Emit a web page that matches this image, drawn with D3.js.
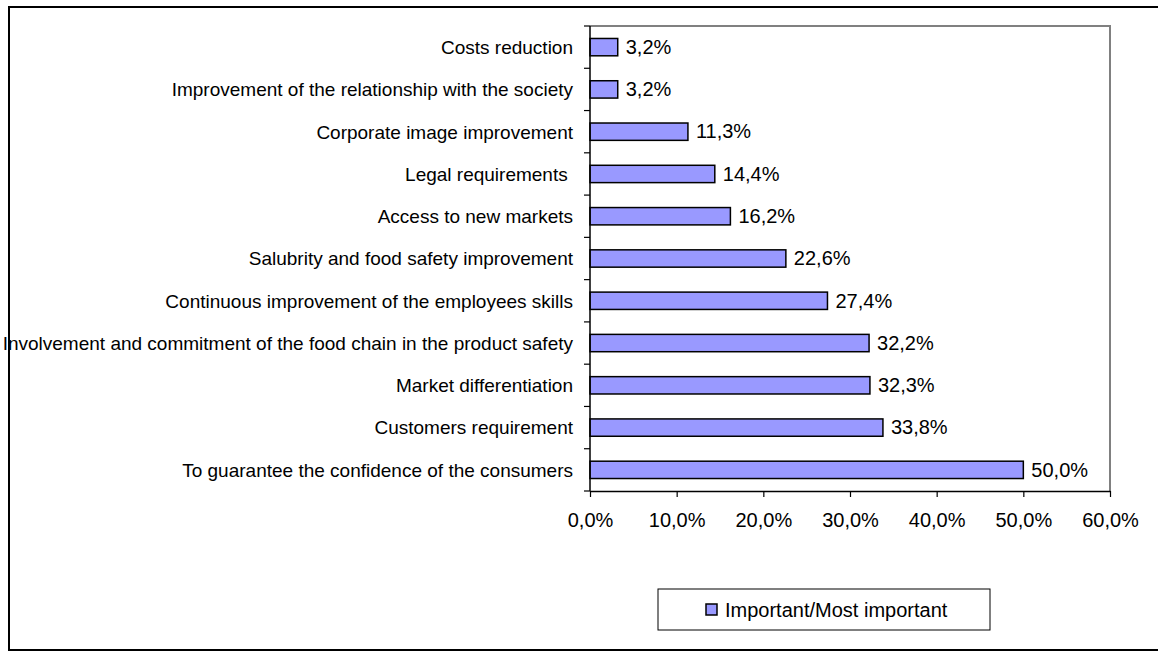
<!DOCTYPE html>
<html>
<head>
<meta charset="utf-8">
<script src="https://cdn.jsdelivr.net/npm/d3@7/dist/d3.min.js"></script>
<style>
  html, body { margin: 0; padding: 0; background: #fff; }
  svg { display: block; }
  text { font-family: "Liberation Sans", Arial, sans-serif; fill: #000; white-space: pre; }
</style>
</head>
<body>
<svg id="chart" width="1158" height="651"></svg>
<script>
// Reasons for implementing food safety systems (share answering Important/Most important)
const categories = [
  "Costs reduction",
  "Improvement of the relationship with the society",
  "Corporate image improvement",
  "Legal requirements ",
  "Access to new markets",
  "Salubrity and food safety improvement",
  "Continuous improvement of the employees skills",
  "Involvement and commitment of the food chain in the product safety",
  "Market differentiation",
  "Customers requirement",
  "To guarantee the confidence of the consumers"
];
const values = [3.2, 3.2, 11.3, 14.4, 16.2, 22.6, 27.4, 32.2, 32.3, 33.8, 50.0];
const xTicks = [0, 10, 20, 30, 40, 50, 60];
const seriesName = "Important/Most important";

const fmt = v => v.toFixed(1).replace(".", ",") + "%";

const svg = d3.select("#chart");

// outer frame
svg.append("rect")
  .attr("x", 9).attr("y", 7)
  .attr("width", 1170).attr("height", 643)
  .attr("fill", "none").attr("stroke", "#000").attr("stroke-width", 2);

const plot = { left: 590, right: 1110, top: 26, bottom: 491 };

const x = d3.scaleLinear().domain([0, 60]).range([plot.left, plot.right]);
const y = d3.scaleBand().domain(categories).range([plot.top, plot.bottom])
  .paddingInner(0.59).paddingOuter(0.295);
const yEdges = d3.scaleBand().domain(categories).range([plot.top, plot.bottom]);

// plot area border (top and right, gray)
svg.append("path")
  .attr("d", `M${plot.left},${plot.top}H${plot.right}V${plot.bottom}`)
  .attr("fill", "none").attr("stroke", "#808080").attr("stroke-width", 2);

// bars
svg.append("g").selectAll("rect")
  .data(values)
  .join("rect")
  .attr("x", x(0))
  .attr("y", (d, i) => y(categories[i]))
  .attr("width", d => x(d) - x(0))
  .attr("height", y.bandwidth())
  .attr("fill", "#9999FF")
  .attr("stroke", "#000")
  .attr("stroke-width", 1.5);

// value labels
svg.append("g").selectAll("text")
  .data(values)
  .join("text")
  .attr("x", d => x(d) + 8)
  .attr("y", (d, i) => y(categories[i]) + y.bandwidth() / 2)
  .attr("dy", "0.34em")
  .attr("font-size", 20)
  .text(d => fmt(d));

// y axis: line, ticks between categories, labels
const yAxis = svg.append("g");
yAxis.append("line")
  .attr("x1", plot.left).attr("x2", plot.left)
  .attr("y1", plot.top).attr("y2", plot.bottom)
  .attr("stroke", "#000").attr("stroke-width", 1.5);
const edges = categories.map(c => yEdges(c)).concat([plot.bottom]);
yAxis.selectAll("line.tick")
  .data(edges)
  .join("line")
  .attr("class", "tick")
  .attr("x1", plot.left - 6).attr("x2", plot.left)
  .attr("y1", d => d).attr("y2", d => d)
  .attr("stroke", "#000").attr("stroke-width", 1.2);
yAxis.selectAll("text")
  .data(categories)
  .join("text")
  .attr("x", plot.left - 17)
  .attr("y", d => y(d) + y.bandwidth() / 2)
  .attr("dy", "0.36em")
  .attr("text-anchor", "end")
  .attr("font-size", 19)
  .text(d => d);

// x axis
const xAxis = svg.append("g")
  .attr("transform", `translate(0,${plot.bottom})`)
  .call(d3.axisBottom(x).tickValues(xTicks).tickSize(6).tickPadding(16).tickFormat(fmt).tickSizeOuter(0));
xAxis.select(".domain").attr("stroke", "#000").attr("stroke-width", 1.5);
xAxis.selectAll(".tick line").attr("stroke", "#000").attr("stroke-width", 1.2);
xAxis.selectAll(".tick text")
  .attr("font-family", "Liberation Sans, Arial, sans-serif")
  .attr("font-size", 20)
  .attr("fill", "#000");

// legend
const legend = svg.append("g");
legend.append("rect")
  .attr("x", 658).attr("y", 589)
  .attr("width", 332).attr("height", 41)
  .attr("fill", "#fff").attr("stroke", "#000").attr("stroke-width", 1);
legend.append("rect")
  .attr("x", 706).attr("y", 604)
  .attr("width", 11).attr("height", 11)
  .attr("fill", "#9999FF").attr("stroke", "#000").attr("stroke-width", 1.5);
legend.append("text")
  .attr("x", 725).attr("y", 610)
  .attr("dy", "0.36em")
  .attr("font-size", 20)
  .text(seriesName);
</script>
</body>
</html>
